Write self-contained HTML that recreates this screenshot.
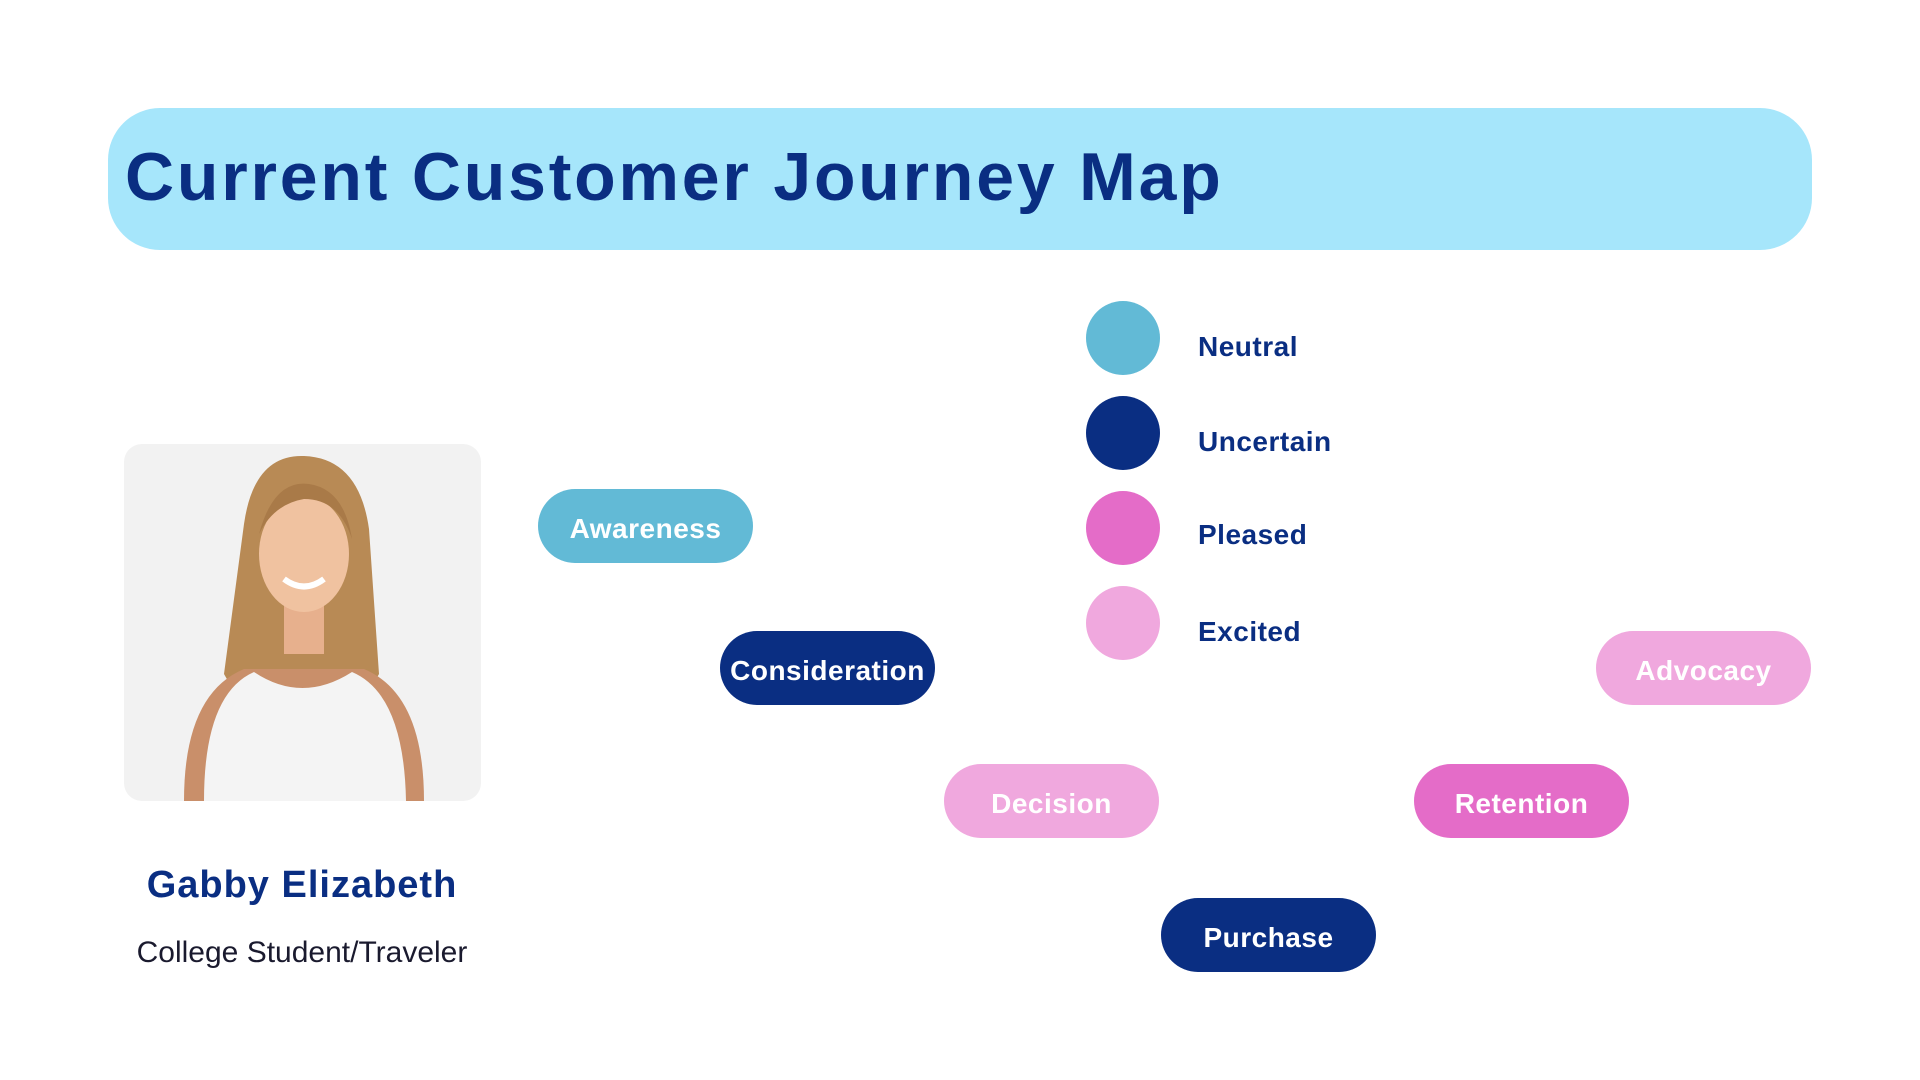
<!DOCTYPE html>
<html><head><meta charset="utf-8"><style>
*{margin:0;padding:0;box-sizing:border-box}
body{width:1920px;height:1080px;background:#fff;position:relative;overflow:hidden;font-family:"Liberation Sans",sans-serif;color:#0a2e82}
.title{position:absolute;left:108px;top:108px;width:1704px;height:142px;background:#a6e6fb;border-radius:52px}
.title span{position:absolute;left:17px;top:30px;font-size:68px;font-weight:bold;letter-spacing:2.8px;white-space:nowrap}
.pill{position:absolute;width:215px;height:74px;border-radius:37px;color:#fff;font-weight:bold;font-size:28px;display:flex;align-items:center;justify-content:center;letter-spacing:.5px;padding-top:6px}
.dot{position:absolute;left:1086px;width:74px;height:74px;border-radius:50%}
.lab{position:absolute;left:1198px;font-size:28px;font-weight:bold;letter-spacing:.5px}
.photo{position:absolute;left:124px;top:444px;width:357px;height:357px;border-radius:18px;background:#f2f2f2;overflow:hidden}
</style></head><body>
<div class="title"><span>Current Customer Journey Map</span></div>

<div class="photo"><svg width="357" height="357" viewBox="0 0 357 357">
<path d="M120 80 Q130 10 180 12 Q235 14 245 85 L255 230 Q240 260 200 250 L160 250 Q115 260 100 230 Z" fill="#b88a55"/>
<path d="M60 357 Q60 250 120 225 L240 225 Q300 250 300 357 Z" fill="#c98f6a"/>
<path d="M80 357 Q80 250 130 228 Q178 260 228 228 Q280 250 282 357 Z" fill="#f4f4f4"/>
<rect x="160" y="150" width="40" height="60" fill="#e7b08d"/>
<ellipse cx="180" cy="110" rx="45" ry="58" fill="#f0c2a0"/>
<path d="M135 90 Q150 35 185 40 Q220 45 228 95 Q215 55 180 55 Q150 60 135 90Z" fill="#a97a48"/>
<path d="M160 135 Q180 150 200 135" stroke="#fff" stroke-width="6" fill="none"/>
</svg></div>

<div style="position:absolute;left:0;width:604px;top:864px;text-align:center;font-size:38px;font-weight:bold;letter-spacing:1px">Gabby Elizabeth</div>
<div style="position:absolute;left:0;width:604px;top:936px;text-align:center;font-size:30px;color:#1a1a2e">College Student/Traveler</div>

<div class="pill" style="left:538px;top:489px;background:#62bad6">Awareness</div>
<div class="pill" style="left:720px;top:631px;background:#0a2e82">Consideration</div>
<div class="pill" style="left:944px;top:764px;background:#f0a8de">Decision</div>
<div class="pill" style="left:1161px;top:898px;background:#0a2e82">Purchase</div>
<div class="pill" style="left:1414px;top:764px;background:#e46cc8">Retention</div>
<div class="pill" style="left:1596px;top:631px;background:#f0a8de">Advocacy</div>

<div class="dot" style="top:301px;background:#62bad6"></div>
<div class="dot" style="top:396px;background:#0a2e82"></div>
<div class="dot" style="top:491px;background:#e46cc8"></div>
<div class="dot" style="top:586px;background:#f0a8de"></div>
<div class="lab" style="top:331px">Neutral</div>
<div class="lab" style="top:426px">Uncertain</div>
<div class="lab" style="top:519px">Pleased</div>
<div class="lab" style="top:616px">Excited</div>
</body></html>
